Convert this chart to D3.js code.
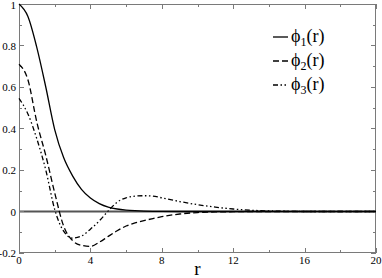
<!DOCTYPE html>
<html><head><meta charset="utf-8">
<script src="https://cdn.jsdelivr.net/npm/d3@7"></script>
<style>body{margin:0;background:#fff}svg{display:block}</style>
</head><body><svg id="c" width="382" height="278" font-family="'Liberation Serif', 'Times New Roman', Times, 'DejaVu Serif', serif"></svg>
<script>
const rVals  = [0,0.5,1,1.5,2,2.5,3,3.5,4,4.5,5,5.5,6,6.5,7,7.5,8,9,10,11,12,13,14,15,16,18,20];
const phi1   = [1,0.94,0.79,0.6,0.395,0.26,0.172,0.107,0.065,0.038,0.021,0.012,0.007,0.004,0.002,0.001,0.0005,0,0,0,0,0,0,0,0,0,0];
const phi2   = [0.71,0.635,0.43,0.27,0.09,-0.07,-0.14,-0.163,-0.168,-0.148,-0.12,-0.093,-0.07,-0.055,-0.044,-0.034,-0.025,-0.012,-0.005,-0.002,-0.001,0,0,0,0,0,0];
const phi3   = [0.545,0.47,0.35,0.2,0.01,-0.095,-0.128,-0.118,-0.085,-0.045,0.003,0.045,0.066,0.074,0.076,0.074,0.066,0.048,0.033,0.021,0.012,0.006,0.003,0.001,0,0,0];
const seriesNames = ["1","2","3"];
const xTicks = [0,4,8,12,16,20];
const yTicks = [-0.2,0,0.2,0.4,0.6,0.8,1];
const yTickLabels = ["-0.2","0","0.2","0.4","0.6","0.8","1"];

const svg = d3.select("#c");
const L=19, R=376, T=4, B=253;
const x = d3.scaleLinear().domain([0,20]).range([L,R]);
const y = d3.scaleLinear().domain([-0.2,1]).range([B,T]);

const frameColor="#7a7a7a";
svg.append("line").attr("x1",L).attr("x2",R).attr("y1",y(0)).attr("y2",y(0))
  .attr("stroke","#555").attr("stroke-width",2);

const g = svg.append("g").attr("stroke",frameColor).attr("stroke-width",1);
const xMinor = d3.range(0,20.01,2), yMinor = d3.range(-0.2,1.001,0.1);
xMinor.forEach(v=>{
  const major = Math.abs(v%4)<1e-6; const len = major?5:3;
  const px=Math.round(x(v))+0.5;
  g.append("line").attr("x1",px).attr("x2",px).attr("y1",B).attr("y2",B-len);
  g.append("line").attr("x1",px).attr("x2",px).attr("y1",T).attr("y2",T+len);
});
yMinor.forEach((v,i)=>{
  const major = i%2===0; const len = major?5:3;
  const py=Math.round(y(v))+0.5;
  g.append("line").attr("x1",L).attr("x2",L+len).attr("y1",py).attr("y2",py);
  g.append("line").attr("x1",R).attr("x2",R-len).attr("y1",py).attr("y2",py);
});
svg.append("rect").attr("x",L+0.5).attr("y",T+0.5).attr("width",R-L-1).attr("height",B-T-1)
  .attr("fill","none").attr("stroke",frameColor).attr("stroke-width",1);

svg.append("g").selectAll("text").data(xTicks).join("text")
  .attr("x",d=>x(d)).attr("y",B+11).attr("text-anchor","middle")
  .attr("font-size",11).text(d=>d);
svg.append("g").selectAll("text").data(yTicks).join("text")
  .attr("x",L-3).attr("y",(d,i)=>i===yTicks.length-1? y(d)+5 : y(d)+4).attr("text-anchor","end")
  .attr("font-size",11).text((d,i)=>yTickLabels[i]);

svg.append("text").attr("x",(L+R)/2).attr("y",275).attr("text-anchor","middle")
  .attr("font-size",19).text("r");

const data = [phi1,phi2,phi3];
const dashes = [null,"6,3","5,2.5,1.5,2.5,1.5,2.5"];
const line = d3.line().x(d=>x(d[0])).y(d=>y(d[1])).curve(d3.curveMonotoneX);
data.forEach((s,k)=>{
  svg.append("path").datum(rVals.map((r,i)=>[r,s[i]]))
    .attr("d",line).attr("fill","none").attr("stroke","#000").attr("stroke-width",1.3)
    .attr("stroke-dasharray",dashes[k]);
});

const lg = svg.append("g");
seriesNames.forEach((n,k)=>{
  const yy = 37 + k*24;
  lg.append("line").attr("x1",273).attr("x2",288).attr("y1",yy).attr("y2",yy)
    .attr("stroke","#000").attr("stroke-width",1.3).attr("stroke-dasharray",dashes[k]);
  const t = lg.append("text").attr("x",291).attr("y",yy+5).attr("font-size",18);
  t.append("tspan").text("\u03D5");
  t.append("tspan").attr("font-size",12).attr("dy",4).text(n);
  t.append("tspan").attr("dy",-4).text("(r)");
});
</script></body></html>
